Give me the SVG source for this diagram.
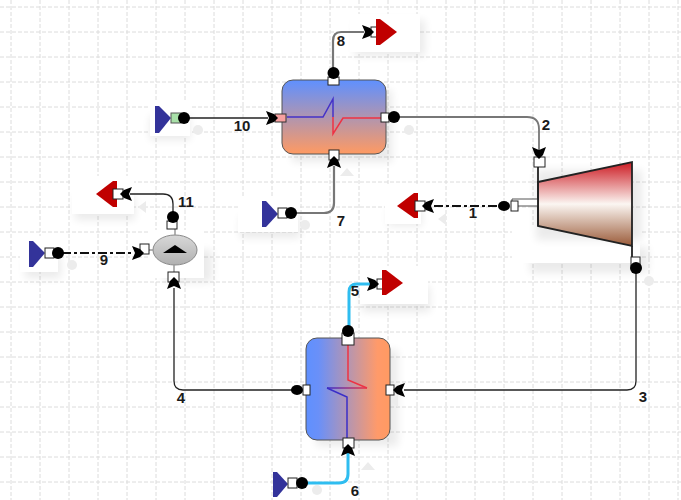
<svg xmlns="http://www.w3.org/2000/svg" width="681" height="500" viewBox="0 0 681 500">
<style>
text{font-family:"Liberation Sans",Arial,sans-serif;font-size:15px;font-weight:700;fill:#1a1a1a;text-anchor:middle}
.g{stroke:#dcdcdc;stroke-width:1;stroke-dasharray:4 2;fill:none}
.w{fill:#fff}
.sh{fill:#000;opacity:.08;filter:url(#b)}
.port{fill:#fff;stroke:#222;stroke-width:1}
.dot{fill:#000}
.c{fill:none;stroke:#222;stroke-width:1.3}
.gr{fill:none;stroke:#777;stroke-width:2.2}
.cy{fill:none;stroke:#2fbdf0;stroke-width:3}
.da{fill:none;stroke:#111;stroke-width:2;stroke-dasharray:9 3 3 3}
.src{fill:#33339a}
.snk{fill:#c00000}
.ghost{fill:#ececec}
</style>
<defs>
<filter id="b" x="-40%" y="-40%" width="180%" height="180%"><feGaussianBlur stdDeviation="4"/></filter>
<linearGradient id="hxv" x1="0" y1="0" x2="0" y2="1"><stop offset="0" stop-color="#5f90ff"/><stop offset="1" stop-color="#ff9a62"/></linearGradient>
<linearGradient id="hxh" x1="0" y1="0" x2="1" y2="0"><stop offset="0" stop-color="#5f90ff"/><stop offset=".15" stop-color="#6a90f8"/><stop offset=".85" stop-color="#ff9a6a"/><stop offset="1" stop-color="#ff9a62"/></linearGradient>
<linearGradient id="tb" x1="0" y1="0" x2="0" y2="1"><stop offset="0" stop-color="#cc1a22"/><stop offset=".5" stop-color="#fbf6f2"/><stop offset="1" stop-color="#9a5a38"/></linearGradient>
<linearGradient id="pm" x1="0" y1="0" x2="0" y2="1"><stop offset="0" stop-color="#d8d8d8"/><stop offset="1" stop-color="#b0b0b0"/></linearGradient>
<linearGradient id="hot" gradientUnits="userSpaceOnUse" x1="327" y1="388" x2="367" y2="388"><stop offset="0" stop-color="#3a2ec8"/><stop offset="1" stop-color="#ee3344"/></linearGradient>
<path id="ar" d="M1 0L-3 -4L-11 -7L-8 0L-11 7L-3 4Z" fill="#000"/>
</defs>
<path class="g" d="M11 0V500M40 0V500M69 0V500M98 0V500M127 0V500M156 0V500M185 0V500M214 0V500M243 0V500M272 0V500M301 0V500M330 0V500M359 0V500M388 0V500M417 0V500M446 0V500M475 0V500M504 0V500M533 0V500M562 0V500M591 0V500M620 0V500M649 0V500M678 0V500"/>
<path class="g" d="M0 7H681M0 32H681M0 57H681M0 82H681M0 107H681M0 132H681M0 157H681M0 182H681M0 207H681M0 232H681M0 257H681M0 282H681M0 307H681M0 332H681M0 357H681M0 382H681M0 407H681M0 432H681M0 457H681M0 482H681"/>
<g id="shadows">
<rect class="sh" x="355" y="20" width="70" height="36"/><rect class="w" x="350" y="14" width="70" height="38"/>
<rect class="sh" x="150" y="116" width="40" height="24"/><rect class="w" x="150" y="100" width="40" height="36"/>
<rect class="sh" x="75" y="196" width="60" height="24"/><rect class="w" x="72" y="176" width="62" height="38"/>
<rect class="sh" x="388" y="208" width="34" height="18"/><rect class="w" x="385" y="186" width="36" height="38"/>
<rect class="sh" x="25" y="256" width="36" height="22"/><rect class="w" x="20" y="236" width="38" height="36"/>
<rect class="sh" x="240" y="216" width="60" height="22"/><rect class="w" x="238" y="196" width="60" height="36"/>
<rect class="sh" x="362" y="286" width="68" height="26"/><rect class="w" x="360" y="266" width="68" height="38"/>
<rect class="sh" x="530" y="247" width="118" height="26"/><rect class="w" x="512" y="225" width="128" height="38"/>
<rect class="sh" x="164" y="250" width="48" height="32"/><rect class="w" x="150" y="230" width="54" height="48"/>
<rect class="sh" x="292" y="90" width="100" height="72"/>
<rect class="sh" x="316" y="350" width="82" height="96"/>
<rect class="sh" x="536" y="170" width="106" height="70"/>
<circle class="ghost" cx="198" cy="130" r="5"/><circle class="ghost" cx="305" cy="225" r="5"/><circle class="ghost" cx="409" cy="130" r="5"/><circle class="ghost" cx="649" cy="281" r="5"/><circle class="ghost" cx="72" cy="265" r="5"/><circle class="ghost" cx="317" cy="490" r="5"/>
<path class="ghost" d="M138 207L146 201V213Z M340 176L347 168L354 176Z M438 219L446 213V225Z M361 470L368 462L375 470Z M390 401L398 395V407Z"/>
</g>
<g id="connectors">
<path class="gr" d="M333 73V41Q333 32 341 32H364"/>
<path class="c" d="M183 118H268"/>
<path class="gr" style="stroke-width:1.800" d="M394 117H527Q539 117 539 129V150"/>
<path class="gr" d="M291 213H324Q334 213 334 203V166"/>
<path class="da" d="M497 206H433"/>
<path class="da" d="M62 253H133"/>
<path class="c" d="M173 217V204Q173 194 163 194H130"/>
<path class="c" d="M636 268V381Q636 390 627 390H404"/>
<path class="c" d="M297 390H183Q174 390 174 381V288"/>
<path class="cy" d="M349 331V292Q349 284 357 284H370"/>
<path class="cy" d="M302 483H339Q348 483 348 474V453"/>
</g>
<g id="node-8-sink"><rect class="port" x="371" y="27" width="10" height="10"/><rect class="snk" x="376" y="19" width="4" height="26"/><path class="snk" d="M380 19L397 32L380 45Z"/><use href="#ar" transform="translate(373 32)"/></g>
<g id="node-hx-top">
<rect x="282" y="80" width="104" height="74" rx="11" fill="url(#hxv)" stroke="#555" stroke-width="1"/>
<path d="M287 117H323L333 99V117" fill="none" stroke="#4432c8" stroke-width="1.500"/>
<path d="M333 117V134L343 118H382" fill="none" stroke="#ee3344" stroke-width="1.500"/>
<rect class="port" x="328" y="77" width="11" height="8"/><circle class="dot" cx="333.500" cy="73" r="6"/>
<rect class="port" x="381" y="113" width="8" height="9"/><circle class="dot" cx="394" cy="117" r="6"/>
<rect x="275" y="114" width="11" height="8" fill="#f7a0a0" stroke="#333"/>
<rect class="port" x="329" y="150" width="10" height="10"/><use href="#ar" transform="translate(334 157) rotate(-90)"/>
<use href="#ar" transform="translate(277 118)"/>
</g>
<g id="node-10-source"><rect class="src" x="155" y="106" width="4" height="27"/><path class="src" d="M159 106L171 118L159 133Z"/><rect x="171" y="113" width="10" height="10" fill="#a8e0a8" stroke="#555"/><circle class="dot" cx="184" cy="118" r="6"/></g>
<g id="node-7-source"><rect class="src" x="262" y="201" width="4" height="26"/><path class="src" d="M266 201L278 214L266 227Z"/><rect class="port" x="278" y="208" width="9" height="10"/><circle class="dot" cx="291" cy="213" r="6"/></g>
<g id="node-turbine">
<path d="M538 182L632 162V246L538 226Z" fill="url(#tb)" stroke="#222" stroke-width="1.800"/>
<path d="M512 199H538V206H512Z" fill="#fff" stroke="#555" stroke-width="1"/>
<path d="M538 167V226M632 246V258" stroke="#222" stroke-width="1.800"/>
<rect class="port" x="534" y="157" width="11" height="10"/><use href="#ar" transform="translate(539 158) rotate(90)"/>
<rect class="port" x="631" y="257" width="9" height="9"/>
<circle class="dot" cx="636" cy="268" r="6"/>
<rect class="port" x="511" y="201" width="7" height="10"/><ellipse class="dot" cx="504" cy="206" rx="6" ry="5"/>
</g>
<g id="node-1-sink"><path class="snk" d="M397 206L414 193V218Z"/><rect class="snk" x="414" y="193" width="4" height="25"/><rect class="port" x="415" y="201" width="10" height="10"/><use href="#ar" transform="translate(423 206) rotate(180)"/></g>
<g id="node-11-sink"><path class="snk" d="M96 194L113 181V207Z"/><rect class="snk" x="113" y="181" width="4" height="26"/><rect class="port" x="113" y="189" width="10" height="10"/><use href="#ar" transform="translate(121 194) rotate(180)"/></g>
<g id="node-pump">
<ellipse cx="175" cy="250" rx="22" ry="15" fill="url(#pm)" stroke="#888"/>
<path d="M163 253L175 245L187 253Z" fill="#000"/>
<path d="M175 229V235M153 250H149M174 265V272" stroke="#999" stroke-width="1.500"/>
<rect class="port" x="167" y="221" width="10" height="8"/><circle class="dot" cx="173" cy="217" r="6"/>
<rect class="port" x="140" y="244" width="9" height="10"/><use href="#ar" transform="translate(143 253)"/>
<rect class="port" x="168" y="272" width="11" height="10"/><use href="#ar" transform="translate(174 278) rotate(-90)"/>
</g>
<g id="node-9-source"><rect class="src" x="29" y="241" width="4" height="26"/><path class="src" d="M33 241L45 253L33 267Z"/><rect class="port" x="45" y="248" width="9" height="10"/><circle class="dot" cx="58" cy="253" r="6"/></g>
<g id="node-5-sink"><rect class="port" x="377" y="279" width="10" height="10"/><rect class="snk" x="382" y="270" width="4" height="25"/><path class="snk" d="M386 270L403 283L386 295Z"/><use href="#ar" transform="translate(378 284)"/></g>
<g id="node-hx-bottom">
<rect x="306" y="338" width="84" height="102" rx="11" fill="url(#hxh)" stroke="#555" stroke-width="1"/>
<path d="M348 345V380L367 388" fill="none" stroke="#ee3344" stroke-width="1.500"/>
<path d="M327 388H367" fill="none" stroke="url(#hot)" stroke-width="1.500"/>
<path d="M327 388L347 397V438" fill="none" stroke="#3a2ec8" stroke-width="1.500"/>
<rect class="port" x="342" y="333" width="12" height="12"/><circle class="dot" cx="348" cy="331" r="6"/>
<rect class="port" x="303" y="385" width="7" height="10"/><ellipse class="dot" cx="297" cy="390" rx="6" ry="5"/>
<rect class="port" x="386" y="385" width="8" height="10"/><use href="#ar" transform="translate(394 390) rotate(180)"/>
<rect class="port" x="343" y="438" width="11" height="10"/><use href="#ar" transform="translate(348 445) rotate(-90)"/>
</g>
<g id="node-6-source"><rect class="src" x="273" y="472" width="4" height="25"/><path class="src" d="M277 472L288 484L277 497Z"/><rect class="port" x="288" y="478" width="9" height="10"/><circle class="dot" cx="302" cy="483" r="6"/></g>
<g id="labels">
<text x="341" y="46">8</text><text x="242" y="131">10</text><text x="546" y="130">2</text><text x="341" y="226">7</text><text x="473" y="218">1</text><text x="186" y="207">11</text><text x="104" y="265">9</text><text x="355" y="296">5</text><text x="181" y="403">4</text><text x="643" y="402">3</text><text x="355" y="496">6</text>
</g>
</svg>
